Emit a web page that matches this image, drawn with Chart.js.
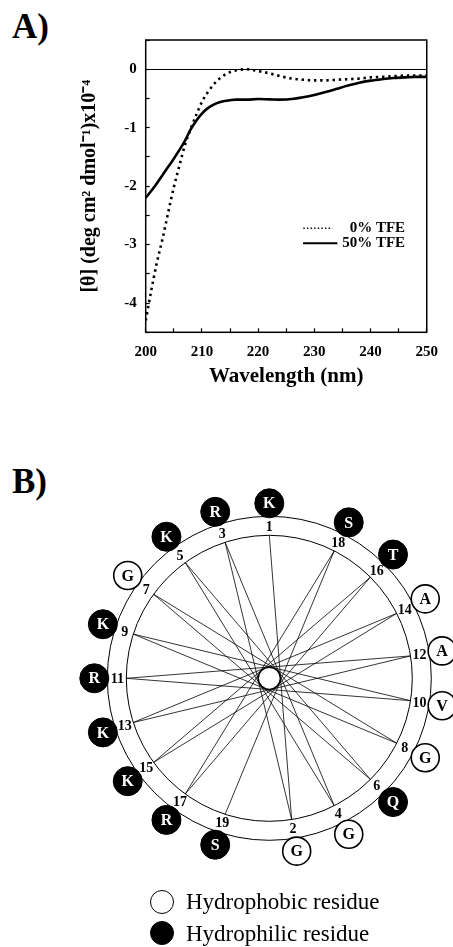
<!DOCTYPE html>
<html><head><meta charset="utf-8">
<script src="https://cdn.jsdelivr.net/npm/chart.js@4.4.1/dist/chart.umd.min.js"></script>
<style>
html,body{margin:0;padding:0;background:#fff;}
body{width:453px;height:947px;position:relative;overflow:hidden;font-family:"Liberation Serif","Times New Roman",serif;}
#cdChart{position:absolute;left:0;top:0;}
#wheelChart{position:absolute;left:0;top:400px;}
.panel{position:absolute;font-weight:bold;font-size:35px;line-height:35px;color:#000;}
.leg{position:absolute;font-size:23px;line-height:23px;color:#000;white-space:nowrap;}
.dot{position:absolute;width:24px;height:24px;border-radius:50%;box-sizing:border-box;border:1.5px solid #000;}
</style></head>
<body>
<div class="panel" style="left:12px;top:9px">A)</div>
<div class="panel" style="left:12px;top:464px">B)</div>
<canvas id="cdChart" width="453" height="395"></canvas>
<canvas id="wheelChart" width="453" height="547"></canvas>
<div class="dot" style="left:150px;top:890px;background:#fff"></div>
<div class="leg" style="left:186px;top:890px">Hydrophobic residue</div>
<div class="dot" style="left:150px;top:921px;background:#000"></div>
<div class="leg" style="left:186px;top:922px">Hydrophilic residue</div>
<script>
// ---------- Panel A data ----------
const wavelengthNm = [200,201,202,203,204,205,206,207,208,209,210,211,212,213,214,215,216,
  218,220,222,224,226,228,230,232,234,236,238,240,242,244,246,248,250];
const theta0TFE = [-4.3,-3.78,-3.3,-2.9,-2.45,-2.02,-1.65,-1.29,-1.02,-0.78,-0.56,-0.4,-0.27,-0.17,-0.1,-0.05,-0.02,
  0,-0.03,-0.07,-0.12,-0.16,-0.18,-0.19,-0.19,-0.18,-0.17,-0.16,-0.14,-0.13,-0.12,-0.11,-0.11,-0.11];
const theta50TFE = [-2.2,-2.08,-1.95,-1.81,-1.67,-1.53,-1.38,-1.22,-1.03,-0.88,-0.76,-0.67,-0.61,-0.57,-0.545,-0.53,-0.52,
  -0.52,-0.51,-0.515,-0.52,-0.51,-0.48,-0.44,-0.39,-0.335,-0.28,-0.23,-0.195,-0.17,-0.15,-0.14,-0.13,-0.13];
const seriesLabels = ['0% TFE','50% TFE'];
const xTitle = 'Wavelength (nm)';
const yTitle = '[θ] (deg cm² dmol⁻¹)x10⁻⁴';

// ---------- Panel B data ----------
const residueSeq = ['K','G','R','G','K','Q','G','G','K','V','R','A','K','A','K','T','R','S','S'];
const hydrophobicResidues = ['G','A','V'];
const WHEEL_STEP_DEG = 171;

const FONT = '"Liberation Serif","Times New Roman",serif';

// ---------- Panel A ----------
const cdFrame = {
  id:'cdFrame',
  afterDatasetsDraw(chart){
    const {ctx, chartArea:a} = chart;
    ctx.save();
    ctx.strokeStyle='#000'; ctx.lineWidth=1.5; ctx.setLineDash([]);
    ctx.strokeRect(a.left, a.top, a.right-a.left, a.bottom-a.top);
    // legend
    const rx = a.right - 21.7;
    const y1 = a.top + 188.3, y2 = a.top + 203.3;
    ctx.lineWidth=1.4; ctx.setLineDash([1.4,2.2]);
    ctx.beginPath(); ctx.moveTo(a.right-123.4, y1); ctx.lineTo(a.right-94.4, y1); ctx.stroke();
    ctx.setLineDash([]); ctx.lineWidth=2;
    ctx.beginPath(); ctx.moveTo(a.right-123.7, y2); ctx.lineTo(a.right-89.4, y2); ctx.stroke();
    ctx.fillStyle='#000'; ctx.font='bold 15px '+FONT; ctx.textAlign='right'; ctx.textBaseline='middle';
    ctx.fillText(seriesLabels[0], rx, y1);
    ctx.fillText(seriesLabels[1], rx, y2);
    ctx.restore();
  }
};
const isInt = v => Math.abs(v - Math.round(v)) < 1e-6;

new Chart(document.getElementById('cdChart'), {
  type:'line',
  data:{datasets:[
    {label:seriesLabels[0], data:wavelengthNm.map((x,i)=>({x, y:theta0TFE[i]})), borderColor:'#000', borderWidth:2.6,
     borderDash:[2.4,3.8], pointRadius:0, cubicInterpolationMode:'monotone', fill:false},
    {label:seriesLabels[1], data:wavelengthNm.map((x,i)=>({x, y:theta50TFE[i]})), borderColor:'#000', borderWidth:2.6,
     pointRadius:0, cubicInterpolationMode:'monotone', fill:false}
  ]},
  options:{
    responsive:false, animation:false, devicePixelRatio:1,
    layout:{padding:{top:40,right:15.3,left:0,bottom:0}, autoPadding:false},
    plugins:{legend:{display:false}, tooltip:{enabled:false}},
    scales:{
      x:{type:'linear', min:200, max:250,
        afterFit(s){ s.height = 62.7; },
        ticks:{stepSize:5, autoSkip:false, maxRotation:0, padding:15, color:'#000',
          font:{family:FONT,size:15,weight:'bold'}, callback:v => (Math.round(v)%10===0 ? String(Math.round(v)) : '')},
        grid:{drawOnChartArea:false, tickLength:-4, tickColor:'#000', tickWidth:1.2},
        border:{display:false},
        title:{display:true, text:xTitle, color:'#000', font:{family:FONT,size:21,weight:'bold'}, padding:{top:0,bottom:6}}
      },
      y:{type:'linear', min:-4.5, max:0.5,
        afterFit(s){ s.width = 145.7; },
        ticks:{stepSize:0.5, autoSkip:false, padding:13, color:'#000',
          font:{family:FONT,size:15,weight:'bold'}, callback:v => (isInt(v) ? String(Math.round(v)) : '')},
        grid:{drawOnChartArea:true, tickLength:-4, tickColor:'#000', tickWidth:1.2, lineWidth:1,
          color:c => (c.tick && Math.abs(c.tick.value)<1e-9 ? '#000' : 'rgba(0,0,0,0)')},
        border:{display:false},
        title:{display:true, text:yTitle, color:'#000', font:{family:FONT,size:20,weight:'bold'}, padding:{top:78,bottom:0}}
      }
    }
  },
  plugins:[cdFrame]
});

// ---------- Panel B ----------
const R_INNER=143, R_OUTER=162, R_MARK=175, R_NUM=152;
function polar(n, r){ const t=((n-1)*WHEEL_STEP_DEG)*Math.PI/180; return {x:r*Math.sin(t), y:r*Math.cos(t)}; }
const positions = residueSeq.map((_,i)=>i+1);
const pathPts = positions.map(n=>polar(n,R_INNER));
const phobicPts = positions.filter(n=>hydrophobicResidues.includes(residueSeq[n-1])).map(n=>Object.assign(polar(n,R_MARK),{n}));
const philicPts = positions.filter(n=>!hydrophobicResidues.includes(residueSeq[n-1])).map(n=>Object.assign(polar(n,R_MARK),{n}));

const wheelPlugin = {
  id:'wheel',
  beforeDatasetsDraw(chart){
    const {ctx, scales:{x,y}} = chart;
    const cx = x.getPixelForValue(0), cy = y.getPixelForValue(0);
    ctx.save(); ctx.strokeStyle='#000'; ctx.lineWidth=1;
    [R_INNER,R_OUTER].forEach(r=>{
      const pr = x.getPixelForValue(r)-cx;
      ctx.beginPath(); ctx.arc(cx,cy,pr,0,Math.PI*2); ctx.stroke();
    });
    ctx.restore();
  },
  afterDatasetsDraw(chart){
    const {ctx, scales:{x,y}} = chart;
    ctx.save();
    ctx.textAlign='center'; ctx.textBaseline='middle';
    ctx.font='bold 16px '+FONT;
    [1,2].forEach(di=>{
      const meta = chart.getDatasetMeta(di);
      const ds = chart.data.datasets[di];
      meta.data.forEach((pt,i)=>{
        ctx.fillStyle = di===1 ? '#000' : '#fff';
        ctx.fillText(residueSeq[ds.data[i].n-1], pt.x, pt.y+1);
      });
    });
    ctx.fillStyle='#000'; ctx.font='bold 14px '+FONT;
    positions.forEach(n=>{
      const p = polar(n,R_NUM);
      ctx.fillText(String(n), x.getPixelForValue(p.x), y.getPixelForValue(p.y)+1);
    });
    ctx.restore();
  }
};

new Chart(document.getElementById('wheelChart'), {
  type:'scatter',
  data:{datasets:[
    {label:'center', data:[{x:0,y:0}], pointRadius:11, pointBackgroundColor:'#fff', pointBorderColor:'#000', pointBorderWidth:1.3, order:0},
    {label:'Hydrophobic residue', data:phobicPts, pointRadius:14, pointBackgroundColor:'#fff', pointBorderColor:'#000', pointBorderWidth:1.6, order:1},
    {label:'Hydrophilic residue', data:philicPts, pointRadius:14.5, pointBackgroundColor:'#000', pointBorderColor:'#000', pointBorderWidth:1, order:1},
    {label:'helix path', type:'line', data:pathPts, showLine:true, borderColor:'#000', borderWidth:0.8, pointRadius:0, tension:0, fill:false, order:5}
  ]},
  options:{
    responsive:false, animation:false, devicePixelRatio:1,
    layout:{padding:0, autoPadding:false},
    plugins:{legend:{display:false}, tooltip:{enabled:false}},
    scales:{
      x:{type:'linear', display:false, min:-269.3, max:183.7},
      y:{type:'linear', display:false, min:-268.7, max:278.3}
    }
  },
  plugins:[wheelPlugin]
});
</script>
</body></html>
